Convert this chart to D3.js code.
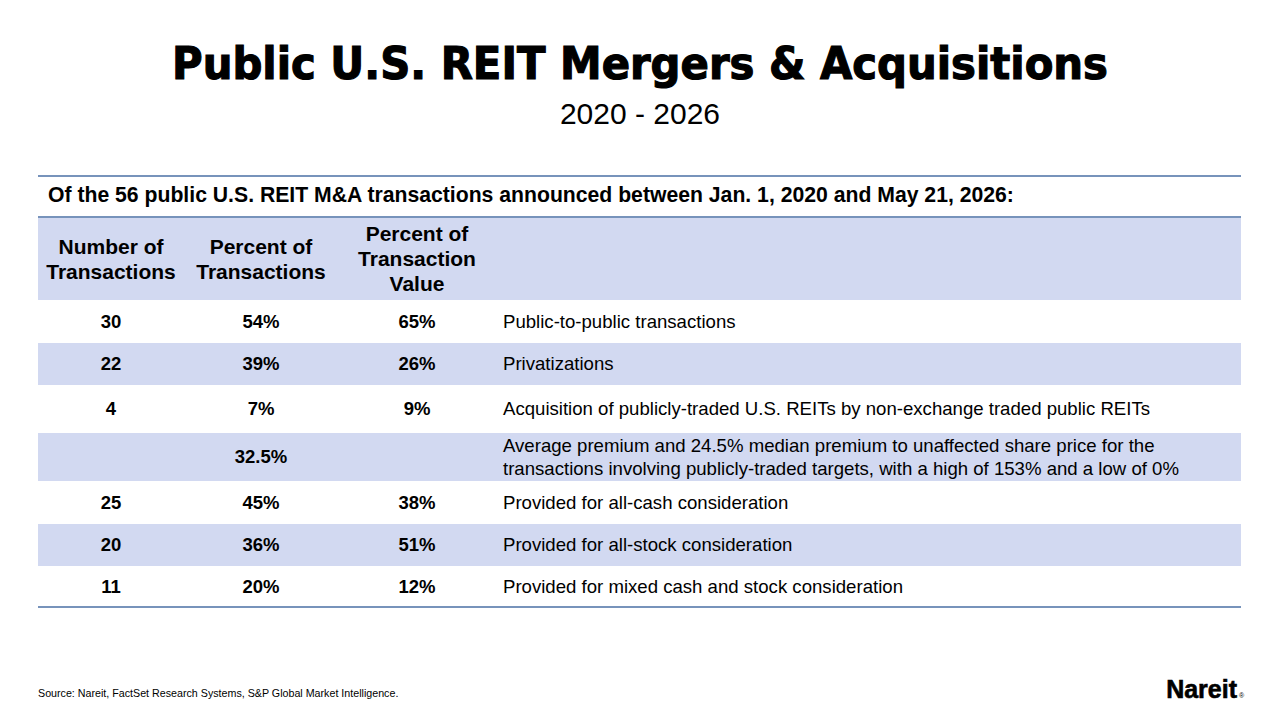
<!DOCTYPE html>
<html><head><meta charset="utf-8">
<script src="https://cdn.jsdelivr.net/npm/d3@7"></script>
<style>body{margin:0;background:#fff}</style></head>
<body><svg id="c" width="1280" height="720"></svg>
<script>
const title = "Public U.S. REIT Mergers & Acquisitions";
const subtitle = "2020 - 2026";
const intro = "Of the 56 public U.S. REIT M&A transactions announced between Jan. 1, 2020 and May 21, 2026:";
const headers = [["Number of","Transactions"],["Percent of","Transactions"],["Percent of","Transaction","Value"]];
const counts = ["30","22","4","","25","20","11"];
const pctTx = ["54%","39%","7%","32.5%","45%","36%","20%"];
const pctVal = ["65%","26%","9%","","38%","51%","12%"];
const descriptions = [
 ["Public-to-public transactions"],
 ["Privatizations"],
 ["Acquisition of publicly-traded U.S. REITs by non-exchange traded public REITs"],
 ["Average premium and 24.5% median premium to unaffected share price for the","transactions involving publicly-traded targets, with a high of 153% and a low of 0%"],
 ["Provided for all-cash consideration"],
 ["Provided for all-stock consideration"],
 ["Provided for mixed cash and stock consideration"]];
const source = "Source: Nareit, FactSet Research Systems, S&P Global Market Intelligence.";

const svg = d3.select("#c");
const F = "Liberation Sans, Arial, sans-serif";
const band = "#d2d9f1", lineC = "#4a6fa5";
const L = 38, R = 1241;
svg.append("text").attr("x",640).attr("y",79).attr("text-anchor","middle")
 .attr("font-family","DejaVu Sans, sans-serif").attr("font-weight",900).attr("font-size",44)
 .attr("stroke","#000").attr("stroke-width",1.2).attr("textLength",936).attr("lengthAdjust","spacingAndGlyphs").text(title);
svg.append("text").attr("x",640).attr("y",124).attr("text-anchor","middle").attr("font-family",F).attr("font-size",30).text(subtitle);

svg.append("line").attr("x1",L).attr("x2",R).attr("y1",176).attr("y2",176).attr("stroke",lineC).attr("stroke-width",1.5);
svg.append("text").attr("x",48).attr("y",202).attr("font-family",F).attr("font-weight","bold").attr("font-size",21.2).text(intro);
svg.append("line").attr("x1",L).attr("x2",R).attr("y1",217).attr("y2",217).attr("stroke",lineC).attr("stroke-width",1.5);

const cols = [111,261,417];
const hTop = 218, hBot = 300;
svg.append("rect").attr("x",L).attr("y",hTop).attr("width",R-L).attr("height",hBot-hTop).attr("fill",band);
headers.forEach((h,i)=>{
  const lh = 25, start = (hTop+hBot)/2 - (h.length-1)*lh/2 + 7;
  h.forEach((t,j)=>svg.append("text").attr("x",cols[i]).attr("y",start+j*lh).attr("text-anchor","middle")
    .attr("font-family",F).attr("font-weight","bold").attr("font-size",21).text(t));
});

const rowH = [43,42,48,48,43,42,41];
let y = hBot;
descriptions.forEach((d,i)=>{
  const h = rowH[i];
  if(i%2===1) svg.append("rect").attr("x",L).attr("y",y).attr("width",R-L).attr("height",h).attr("fill",band);
  const cy = y+h/2+6;
  [counts[i],pctTx[i],pctVal[i]].forEach((v,k)=>svg.append("text").attr("x",cols[k]).attr("y",cy).attr("text-anchor","middle")
    .attr("font-family",F).attr("font-weight","bold").attr("font-size",18.5).text(v));
  const lh = 23, st = cy-(d.length-1)*lh/2;
  d.forEach((t,j)=>svg.append("text").attr("x",503).attr("y",st+j*lh).attr("font-family",F).attr("font-size",18.6).text(t));
  y += h;
});
svg.append("line").attr("x1",L).attr("x2",R).attr("y1",y).attr("y2",y).attr("stroke",lineC).attr("stroke-width",1.5);

svg.append("text").attr("x",38).attr("y",697).attr("font-family",F).attr("font-size",10.7).text(source);
svg.append("text").attr("x",1237).attr("y",698).attr("text-anchor","end").attr("font-family",F).attr("font-weight","bold")
 .attr("font-size",25).attr("stroke","#000").attr("stroke-width",0.6).text("Nareit");
svg.append("text").attr("x",1239).attr("y",698).attr("font-family",F).attr("font-size",7).text("®");
</script></body></html>
